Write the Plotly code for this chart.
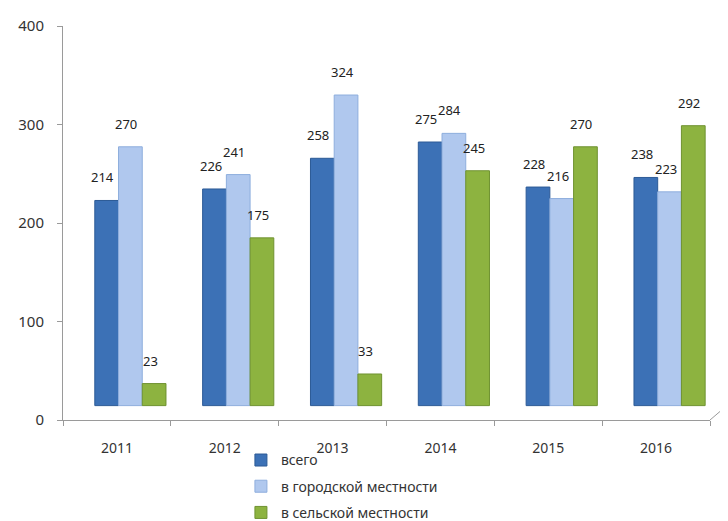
import plotly.graph_objects as go

years = ["2011", "2012", "2013", "2014", "2015", "2016"]
total = [214, 226, 258, 275, 228, 238]
urban = [270, 241, 324, 284, 216, 223]
rural = [23, 175, 33, 245, 270, 292]
series_names = ["всего", "в городской местности", "в сельской местности"]
series_values = [total, urban, rural]
y_ticks = [0, 100, 200, 300, 400]

colors = ["#3c71b6", "#b0c8ee", "#8db340"]
edge = ["#2c5a96", "#8eaedd", "#6f9230"]
bar_w = 0.22
offsets = [-0.205, 0.015, 0.235]

# page body has an 8px margin, so the figure is drawn 8px in from the corner
W, H = 720, 513
ml, mr, mt, mb = 55, 18, 18, 101
plot_w = W - ml - mr
cat_px = plot_w / len(years)

fig = go.Figure()
# empty trace so the visible value axis (y) is drawn
fig.add_trace(go.Scatter(x=[], y=[], showlegend=False, hoverinfo="skip"))
for i, (name, vals) in enumerate(zip(series_names, series_values)):
    fig.add_trace(go.Bar(
        x=years, y=vals, name=name,
        width=bar_w, offset=offsets[i],
        marker=dict(color=colors[i], line=dict(color=edge[i], width=1)),
        yaxis="y2", legendgroup=name,
        hoverinfo="x+y+name",
    ))
    for j, v in enumerate(vals):
        fig.add_annotation(
            x=j, y=v, xref="x", yref="y2", text=str(v), showarrow=False,
            xshift=(offsets[i] + bar_w / 2) * cat_px - 4, yshift=12,
            yanchor="bottom", font=dict(family="Noto Sans", size=13, color="#222"),
        )

# perspective edge of the floor
fig.add_shape(type="line", xref="paper", yref="paper",
              x0=1.0, y0=0.0, x1=1.025, y1=0.035,
              line=dict(color="#9a9a9a", width=1))

fig.update_layout(
    width=W, height=H,
    margin=dict(l=ml, r=mr, t=mt, b=mb, autoexpand=False),
    paper_bgcolor="white", plot_bgcolor="white",
    barmode="overlay",
    font=dict(family="Noto Sans", size=14, color="#333"),
    showlegend=True,
    legend=dict(orientation="v", x=0.275, xanchor="left", y=-0.062, yanchor="top",
                font=dict(size=14, color="#333"), tracegroupgap=5,
                bgcolor="rgba(0,0,0,0)", itemwidth=30),
    xaxis=dict(type="category", range=[-0.5, len(years) - 0.5], autorange=False,
               showline=True, linecolor="#9a9a9a", linewidth=1,
               ticks="outside", tickson="boundaries", ticklen=5, tickcolor="#9a9a9a",
               showgrid=False, zeroline=False, ticklabelstandoff=15,
               tickfont=dict(size=14, color="#333")),
    yaxis=dict(range=[0, 400], tickvals=y_ticks, showline=True, linecolor="#9a9a9a",
               linewidth=1, ticks="outside", ticklen=5, tickcolor="#9a9a9a",
               showgrid=False, zeroline=False, ticklabelstandoff=10,
               tickfont=dict(size=15, color="#333")),
    yaxis2=dict(range=[-15, 396], overlaying="y", visible=False, showgrid=False,
                zeroline=False),
)

fig.write_html("out.html")
